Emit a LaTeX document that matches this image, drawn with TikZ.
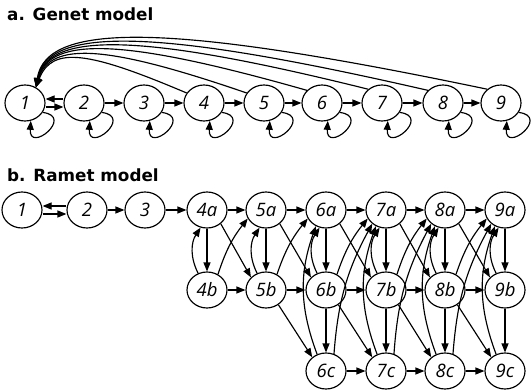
\documentclass[tikz,border=0pt]{standalone}
\usepackage{fontspec}
\setmainfont{Open Sans}
\newfontfamily\ttlfont{DejaVu Sans}
\usetikzlibrary{arrows.meta,shapes.geometric}
\begin{document}
\begin{tikzpicture}[x=1pt,y=1pt,
  st/.style={ellipse,draw,line width=1.15pt,minimum width=40pt,minimum height=36pt,inner sep=0pt,font=\fontsize{18.5}{18.5}\selectfont\itshape},
  ar/.style={line width=1.15pt,-{Triangle[length=9pt,width=7pt]}},
  ttl/.style={anchor=base west,inner sep=0pt,font=\ttlfont\fontsize{16.8}{16.8}\selectfont\bfseries}]
\useasboundingbox (0,0) rectangle (532,-390);
\node[ttl] (ta) at (7,-21) {a. Genet model};
\node[ttl] (tb) at (7,-181) {b. Ramet model};
% genet
\foreach \i/\x in {1/25,2/84,3/144,4/204,5/264,6/322,7/382,8/443,9/501}
  \node[st] (g\i) at (\x,-103) {\i};
\draw[ar] ([yshift=4]g2.west) -- ([yshift=4]g1.east);
\draw[ar] ([yshift=-4]g1.east) -- ([yshift=-4]g2.west);
\foreach \i/\j in {2/3,3/4,4/5,5/6,6/7,7/8,8/9}
  \draw[ar] (g\i) -- (g\j);
\foreach \i in {1,...,9}
  \draw[ar] (g\i.-28) .. controls +(32,-4) and +(-2,-33) .. (g\i.-72);
\draw[ar] (g4.150) .. controls (90,-52) and (52,-45) .. (g1.55);
\draw[ar] (g5.150) .. controls (110,-46) and (50,-40) .. (g1.55);
\draw[ar] (g6.140) .. controls (130,-40) and (49,-34) .. (g1.55);
\draw[ar] (g7.135) .. controls (150,-35) and (48,-29) .. (g1.55);
\draw[ar] (g8.140) .. controls (165,-30) and (47,-24) .. (g1.55);
\draw[ar] (g9.135) .. controls (180,-25) and (46,-19) .. (g1.55);
% ramet
\node[st] (r1) at (22,-210) {1};
\node[st] (r2) at (87,-210) {2};
\node[st] (r3) at (145,-210) {3};
\foreach \i/\x in {4/207,5/266,6/326,7/386,8/445,9/505}{
  \node[st] (a\i) at (\x,-210) {\i a};
  \node[st] (b\i) at (\x,-290) {\i b};}
\foreach \i/\x in {6/326,7/386,8/445,9/505}
  \node[st] (c\i) at (\x,-371) {\i c};
\draw[ar] ([yshift=4]r2.west) -- ([yshift=4]r1.east);
\draw[ar] ([yshift=-4]r1.east) -- ([yshift=-4]r2.west);
\draw[ar] (r2) -- (r3);
\draw[ar] (r3) -- (a4);
\foreach \i/\j in {4/5,5/6,6/7,7/8,8/9}{
  \draw[ar] (a\i) -- (a\j);
  \draw[ar] (b\i) -- (b\j);
  \draw[ar] (a\i.-45) -- (b\j.140);
  \draw[ar] (b\i.55) to[bend left=10] (a\j.205);}
\foreach \i in {4,...,9}{
  \draw[ar] (a\i) -- (b\i);
  \draw[ar] (b\i.118) to[bend left=30] (a\i.250);}
\foreach \i in {6,...,9}{
  \draw[ar] (b\i) -- (c\i);
  \draw[ar] (c\i.118) to[bend left=20] (a\i.238);}
\foreach \i/\j in {5/6,6/7,7/8,8/9}
  \draw[ar] (b\i.-50) -- (c\j.135);
\foreach \i/\j in {6/7,7/8,8/9}{
  \draw[ar] (c\i) -- (c\j);
  \draw[ar] (c\i.65) to[bend left=12] (a\j.225);}
\end{tikzpicture}
\end{document}
